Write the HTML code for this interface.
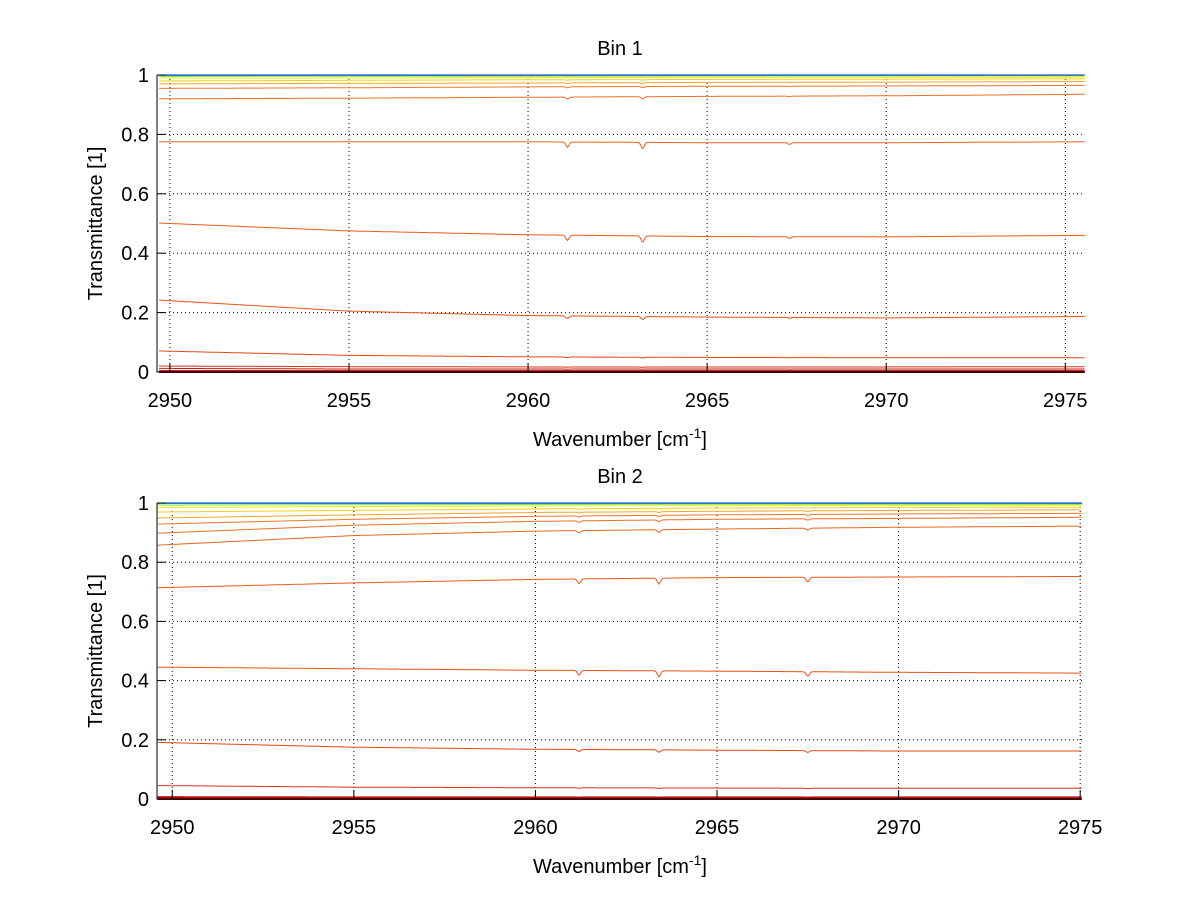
<!DOCTYPE html>
<html><head><meta charset="utf-8"><style>
body{margin:0;background:#fff;width:1200px;height:901px;overflow:hidden}
svg{font-family:"Liberation Sans",sans-serif}
</style></head><body>
<svg id="c" width="1200" height="901"></svg>
<script>
const knotsX=[2950,2955,2960,2965,2970,2975.5];
const xTicks=[2950,2955,2960,2965,2970,2975];
const yTicks=[0,0.2,0.4,0.6,0.8,1];
const yTickLabels=["0","0.2","0.4","0.6","0.8","1"];
const bin1Series=[
[0,0,0,0,0,0],[0.003,0.003,0.003,0.003,0.003,0.003],[0.012,0.01,0.01,0.01,0.01,0.01],[0.02,0.018,0.017,0.017,0.017,0.018],
[0.07,0.056,0.051,0.049,0.048,0.048],[0.24,0.205,0.19,0.185,0.182,0.187],
[0.5,0.475,0.462,0.456,0.455,0.46],[0.775,0.775,0.775,0.772,0.772,0.775],
[0.92,0.922,0.925,0.928,0.93,0.935],[0.955,0.957,0.96,0.962,0.963,0.965],[0.97,0.972,0.973,0.975,0.976,0.978],
[0.98,0.982,0.984,0.985,0.986,0.987],[0.99,0.99,0.991,0.992,0.992,0.993],[0.995,0.996,0.996,0.997,0.997,0.997],
[0.998,0.998,0.998,0.998,0.998,0.999],[1,1,1,1,1,1]];
const bin1Dips=[2961.1,2963.2,2967.3];
const bin1DipDepth=[0.018,0.022,0.006];
const bin2Series=[
[0,0,0,0,0,0],[0.004,0.004,0.004,0.004,0.004,0.004],[0.008,0.007,0.007,0.007,0.007,0.007],
[0.045,0.04,0.038,0.037,0.036,0.036],[0.19,0.175,0.168,0.165,0.162,0.162],
[0.445,0.44,0.435,0.432,0.428,0.425],[0.715,0.73,0.742,0.748,0.75,0.752],
[0.86,0.89,0.905,0.912,0.918,0.922],[0.9,0.925,0.938,0.945,0.948,0.952],[0.93,0.945,0.955,0.96,0.963,0.965],
[0.95,0.96,0.968,0.972,0.975,0.977],[0.97,0.975,0.98,0.983,0.985,0.986],[0.985,0.988,0.99,0.991,0.992,0.993],
[0.993,0.994,0.995,0.996,0.996,0.996],[0.998,0.998,0.998,0.998,0.998,0.998],[1,1,1,1,1,1]];
const bin2Dips=[2961.2,2963.4,2967.5];
const bin2DipDepth=[0.016,0.02,0.016];
const NS="http://www.w3.org/2000/svg";
const svg=document.getElementById('c');
function mk(t,a,p){const e=document.createElementNS(NS,t);for(const k in a)e.setAttribute(k,a[k]);(p||svg).appendChild(e);return e;}
function jet(t){
 const stops=[[0,[128,0,0]],[0.12,[200,20,20]],[0.25,[225,70,20]],[0.6,[238,120,40]],[0.7,[250,190,40]],[0.8,[240,240,0]],[0.88,[120,230,80]],[0.94,[40,200,220]],[1,[0,40,200]]];
 for(let i=1;i<stops.length;i++)if(t<=stops[i][0]){const a=stops[i-1],b=stops[i],f=(t-a[0])/(b[0]-a[0]);return 'rgb('+a[1].map((v,j)=>Math.round(v+(b[1][j]-v)*f)).join(',')+')';}
 return 'rgb(0,40,200)';
}
function interp(vals,x){for(let i=1;i<knotsX.length;i++)if(x<=knotsX[i]){const f=(x-knotsX[i-1])/(knotsX[i]-knotsX[i-1]);return vals[i-1]+(vals[i]-vals[i-1])*f;}return vals[vals.length-1];}
function panel(o){
 const g=mk('g',{});
 
 
 const X=v=>o.x0+(v-o.xmin)*(o.x1-o.x0)/(o.xmax-o.xmin);
 const Y=v=>o.y0+(1-v)*(o.y1-o.y0);
 xTicks.forEach(t=>{const l=mk('line',{x1:X(t),x2:X(t),y1:o.y0,y2:o.y1,stroke:'#000','stroke-width':1,'stroke-dasharray':'1,3'},g);});
 yTicks.forEach(t=>{const l=mk('line',{x1:o.x0,x2:o.x1,y1:Y(t),y2:Y(t),stroke:'#000','stroke-width':1,'stroke-dasharray':'1,3'},g);});
 const n=o.series.length;
 o.series.forEach((s,i)=>{
  let pts=[];
  for(let x=o.xs;x<=o.xmax;x+=0.04){
   let v=interp(s,x);
   let sc=Math.min(1,v*2.5,(1-v)*5);
   o.dips.forEach((d,k)=>{v-=o.depth[k]*Math.max(0,sc)*Math.exp(-Math.pow((x-d)/0.06,2));});
   pts.push(X(x).toFixed(1)+','+Y(v).toFixed(1));
  }
  const p=mk('polyline',{points:pts.join(' '),fill:'none',stroke:jet(i/(n-1)),'stroke-width':i<2?2:1},g);
  
  
 });
 const ax=mk('path',{d:`M${o.x0},${o.y0}V${o.y1}H${o.x1}`,stroke:'#000',fill:'none','stroke-width':1},g);
 
 xTicks.forEach(t=>{mk('line',{x1:X(t),x2:X(t),y1:o.y1,y2:o.y1-9,stroke:'#000'},g);
  const tx=mk('text',{x:X(t),y:o.y1+35,'text-anchor':'middle','font-size':20},g);tx.textContent=t;
  });
 yTicks.forEach((t,i)=>{mk('line',{x1:o.x0,x2:o.x0+9,y1:Y(t),y2:Y(t),stroke:'#000'},g);
  const tx=mk('text',{x:o.x0-8,y:Y(t)+7,'text-anchor':'end','font-size':20},g);tx.textContent=yTickLabels[i];
  });
 const ti=mk('text',{x:620,y:o.y0-20,'text-anchor':'middle','font-size':20},g);ti.textContent=o.title;
 
 const yl=mk('text',{x:0,y:0,transform:`translate(102,${(o.y0+o.y1)/2}) rotate(-90)`,'text-anchor':'middle','font-size':20},g);yl.textContent='Transmittance [1]';
 
 const xl=mk('text',{x:620,y:o.y1+74,'text-anchor':'middle','font-size':20},g);
 
 xl.innerHTML='Wavenumber [cm<tspan dy="-8" font-size="14">-1</tspan><tspan dy="8">]</tspan>';
}
panel({name:'bin1-panel',title:'Bin 1',x0:157,x1:1085,y0:75,y1:372,xmin:2949.64,xmax:2975.55,xs:2949.7,series:bin1Series,dips:bin1Dips,depth:bin1DipDepth});
panel({name:'bin2-panel',title:'Bin 2',x0:157,x1:1082,y0:503,y1:799,xmin:2949.58,xmax:2975.05,xs:2949.6,series:bin2Series,dips:bin2Dips,depth:bin2DipDepth});
</script>
</body></html>
